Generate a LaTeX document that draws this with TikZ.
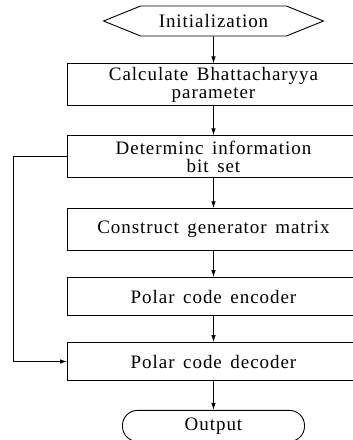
\documentclass[tikz,border=0pt]{standalone}
\usepackage{fontspec}
\setmainfont{Liberation Serif}[LetterSpace=5, WordSpace=1.5]
\usetikzlibrary{positioning, arrows.meta, shapes.symbols}

\begin{document}
\begin{tikzpicture}[auto, node distance=27pt, >={Latex[length=7pt,width=4.5pt]}, line width=0.9pt,
        start/.style = {draw, signal, signal to=west and east, signal pointer angle=44, minimum width=220pt, minimum height=30pt, inner sep=0pt, font=\fontsize{19pt}{18pt}\selectfont},
        block/.style = {draw, rectangle, minimum height=42pt, minimum width=292pt, inner sep=0pt, align=center, font=\fontsize{19pt}{18pt}\selectfont},
        stop/.style = {draw, rectangle, rounded corners=15pt, minimum height=31pt, minimum width=182pt, inner sep=0pt, font=\fontsize{19pt}{18pt}\selectfont},
        ]
        \useasboundingbox (0pt,0pt) rectangle (353pt,-440pt);
        \node [start] (init) at (213.5pt,-21pt) {Initialization};
        \node [block, below= 27pt of init] (bhatt) {Calculate Bhattacharyya\\parameter};
        \node [block, below= 29pt of bhatt] (infoset) {Determinc information\\bit set};
        \node [block, below= 30pt of infoset] (genmat) {Construct generator matrix};
        \node [block, below= 26pt of genmat, minimum height=38pt] (encoder) {Polar code encoder};
        \node [block, below= 26pt of encoder, minimum height=38pt] (decoder) {Polar code decoder};
        \node [stop, below= 29pt of decoder] (output) {Output};
        
        \draw [->] (init) -- (bhatt);
        \draw [->] (bhatt) -- (infoset);
        \draw [->] (infoset) -- (genmat);
        \draw [->] (genmat) -- (encoder);
        \draw [->] (encoder) -- (decoder);
        \draw [->] (decoder) -- (output);
        \draw [->] (infoset.west) -- ++(-54pt,0) |- (decoder.west);
        
    \end{tikzpicture}
\end{document}
